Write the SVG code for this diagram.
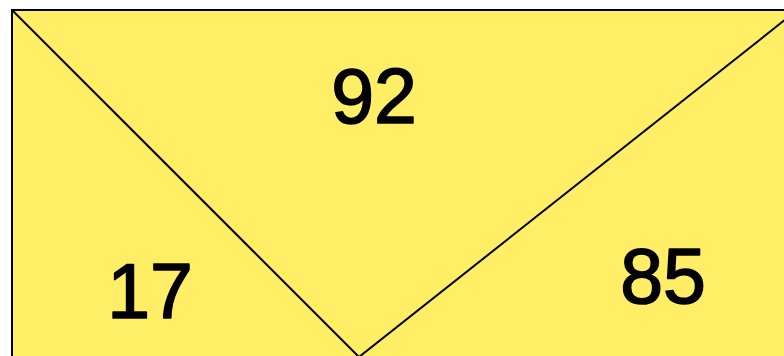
<svg xmlns="http://www.w3.org/2000/svg" width="784" height="356" viewBox="0 0 784 356">
<style>
.lbl{font-family:"Liberation Sans",Arial,sans-serif;font-size:77px;fill:#000;stroke:#000;stroke-width:1.6;stroke-linejoin:round;text-anchor:middle}
.ln{stroke:#000;stroke-width:2;fill:none}
</style>
<rect x="0" y="0" width="784" height="356" fill="#fff"/>
<g id="board">
<rect x="12" y="10" width="790" height="360" fill="#FFEE66" stroke="#000" stroke-width="2"/>
</g>
<g id="connectors">
<line class="ln" x1="12" y1="10" x2="359" y2="357"/>
<line class="ln" x1="359" y1="357" x2="786" y2="19"/>
</g>
<g id="n92"><text class="lbl" x="374" y="123">92</text></g>
<g id="n17"><text class="lbl" x="150" y="318">17</text></g>
<g id="n85"><text class="lbl" x="663" y="303">85</text></g>
</svg>
